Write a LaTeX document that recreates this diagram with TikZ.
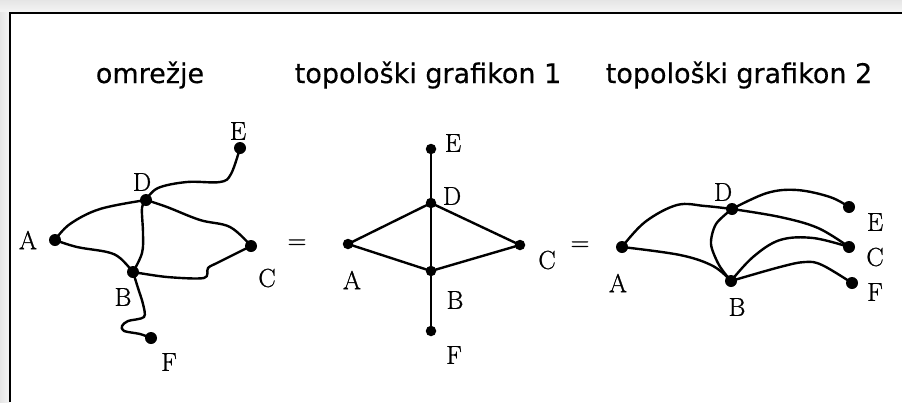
\documentclass[tikz,border=0pt]{standalone}
\usepackage{fontspec}
\newfontfamily\titlefont[FakeBold=0.4]{DejaVu Sans}
\newfontfamily\labfont[FakeBold=0.8]{Latin Modern Roman}
\begin{document}
\begin{tikzpicture}[x=1pt,y=-1pt,
  dot/.style={circle,fill=black,inner sep=0pt,minimum size=12pt},
  sdot/.style={circle,fill=black,inner sep=0pt,minimum size=10.5pt},
  lab/.style={inner sep=0pt,font=\labfont\fontsize{26}{30}\selectfont},
  ttl/.style={inner sep=0pt,anchor=base,font=\titlefont\fontsize{27}{32}\selectfont},
  edge/.style={line width=2.4pt,line cap=round,line join=round}]
\useasboundingbox (0,0) rectangle (902,402);
\fill[white] (0,0) rectangle (902,402);
\shade[top color=gray!20,bottom color=gray!8] (0,0) rectangle (902,12.5);
\shade[left color=gray!20,right color=gray!8] (0,12.5) rectangle (9.5,402);
\draw[line width=2pt] (9.5,402) -- (9.5,12.5) -- (902,12.5);

% titles
\node[ttl] (t1) at (150,83) {omrežje};
\node[ttl] (t2) at (428,83) {topološki grafikon 1};
\node[ttl] (t3) at (739,83) {topološki grafikon 2};

% ---------- graph 1 ----------
\node[dot] (A1) at (55,240) {};
\node[dot] (D1) at (146,200) {};
\node[dot] (E1) at (240,148) {};
\node[dot] (C1) at (251,246) {};
\node[dot] (B1) at (133,272) {};
\node[dot] (F1) at (151,338) {};
\node[lab] (lA1) at (28,240) {A};
\node[lab] (lD1) at (142,182) {D};
\node[lab] (lE1) at (238,131) {E};
\node[lab] (lC1) at (267,278) {C};
\node[lab] (lB1) at (123,297) {B};
\node[lab] (lF1) at (169,362) {F};
\draw[edge] plot[smooth,tension=0.6] coordinates {(A1.center) (70,224) (100,209) (146,200)};
\draw[edge] plot[smooth,tension=0.6] coordinates {(D1.center) (158,188) (187,182) (220,182) (231,174) (E1.center)};
\draw[edge] plot[smooth,tension=0.6] coordinates {(D1.center) (167,207) (200,220) (230,227) (C1.center)};
\draw[edge] plot[smooth,tension=0.6] coordinates {(D1.center) (142,208) (143,233) (142,253) (B1.center)};
\draw[edge] plot[smooth,tension=0.6] coordinates {(A1.center) (77,247) (107,252) (120,258) (B1.center)};
\draw[edge] plot[smooth,tension=0.5] coordinates {(B1.center) (167,277) (204,278) (208,268) (217,263) (233,255) (C1.center)};
\draw[edge] plot[smooth,tension=0.5] coordinates {(B1.center) (138,288) (143,304) (144,317) (128,321) (122,326) (124,331) (140,334) (F1.center)};
\node[lab] (eq1) at (297,244) {=};

% ---------- graph 2 ----------
\node[sdot] (E2) at (431,149) {};
\node[sdot] (D2) at (431,203) {};
\node[sdot] (A2) at (348,244) {};
\node[sdot] (C2) at (520,245) {};
\node[sdot] (B2) at (431,271) {};
\node[sdot] (F2) at (431,331) {};
\node[lab] (lE2) at (453,143) {E};
\node[lab] (lD2) at (452,196) {D};
\node[lab] (lA2) at (352,280) {A};
\node[lab] (lC2) at (547,260) {C};
\node[lab] (lB2) at (455,300) {B};
\node[lab] (lF2) at (454,355) {F};
\draw[edge] (E2.center) -- (D2.center) -- (B2.center) -- (F2.center);
\draw[edge] (A2.center) -- (D2.center) -- (C2.center) -- (B2.center) -- (A2.center) -- cycle;
\node[lab] (eq2) at (580,246) {=};

% ---------- graph 3 ----------
\node[dot] (A3) at (622,247) {};
\node[dot] (D3) at (732,209) {};
\node[dot] (B3) at (731,281) {};
\node[dot] (E3) at (849,207) {};
\node[dot] (C3) at (849,247) {};
\node[dot] (F3) at (852,283) {};
\node[lab] (lA3) at (618,283) {A};
\node[lab] (lD3) at (723,192) {D};
\node[lab] (lB3) at (737,307) {B};
\node[lab] (lE3) at (875,222) {E};
\node[lab] (lC3) at (875,257) {C};
\node[lab] (lF3) at (875,292) {F};
\draw[edge] plot[smooth,tension=0.6] coordinates {(A3.center) (645,222) (677,205) (705,206) (D3.center)};
\draw[edge] plot[smooth,tension=0.6] coordinates {(D3.center) (767,193) (797,190) (830,197) (E3.center)};
\draw[edge] plot[smooth,tension=0.6] coordinates {(D3.center) (780,217) (818,228) (C3.center)};
\draw[edge] plot[smooth,tension=0.5] coordinates {(D3.center) (716,224) (711,244) (719,265) (B3.center)};
\draw[edge] plot[smooth,tension=0.6] coordinates {(A3.center) (680,255) (713,266) (B3.center)};
\draw[edge] plot[smooth,tension=0.6] coordinates {(B3.center) (753,257) (780,240) (813,238) (C3.center)};
\draw[edge] plot[smooth,tension=0.6] coordinates {(B3.center) (780,267) (805,262) (822,265) (F3.center)};
\end{tikzpicture}
\end{document}
